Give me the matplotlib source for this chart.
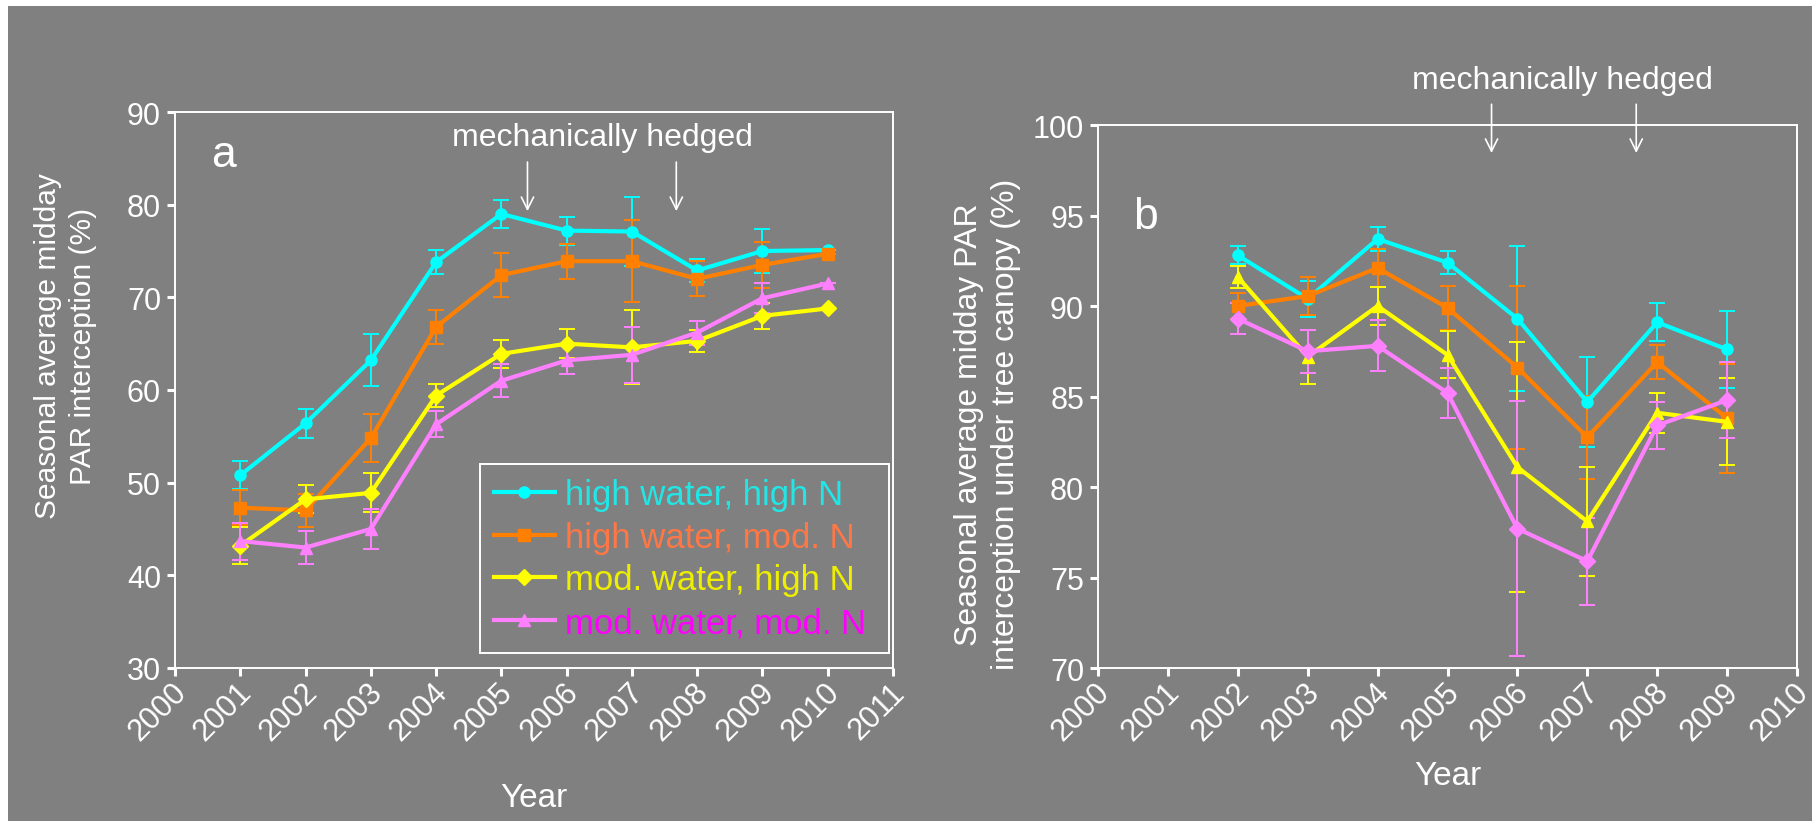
import matplotlib
matplotlib.use("Agg")
import matplotlib.pyplot as plt
from matplotlib.patches import Rectangle
from matplotlib.lines import Line2D
from matplotlib.transforms import ScaledTranslation

plt.rcParams['font.family'] = ['Liberation Sans', 'DejaVu Sans']

# panel a data (2001-2010)
years_a = [2001, 2002, 2003, 2004, 2005, 2006, 2007, 2008, 2009, 2010]
hw_hn_a = [50.8, 56.4, 63.2, 73.8, 79.0, 77.2, 77.1, 72.9, 75.0, 75.1]
hw_hn_a_err = [1.5, 1.6, 2.8, 1.3, 1.5, 1.5, 3.7, 1.2, 2.4, 0]
hw_mn_a = [47.3, 47.0, 54.8, 66.8, 72.4, 73.9, 73.9, 72.0, 73.5, 74.7]
hw_mn_a_err = [1.9, 1.8, 2.6, 1.8, 2.4, 1.9, 4.4, 1.9, 2.5, 0]
mw_hn_a = [43.2, 48.2, 48.9, 59.4, 63.9, 65.0, 64.6, 65.3, 68.0, 68.8]
mw_hn_a_err = [2.0, 1.5, 2.1, 1.2, 1.5, 1.6, 4.0, 1.2, 1.4, 0]
mw_mn_a = [43.7, 43.0, 45.0, 56.3, 61.0, 63.2, 63.8, 66.2, 69.9, 71.5]
mw_mn_a_err = [2.0, 1.8, 2.2, 1.4, 1.8, 1.5, 3.0, 1.3, 1.6, 0]

# panel b data (2002-2009)
years_b = [2002, 2003, 2004, 2005, 2006, 2007, 2008, 2009]
hw_hn_b = [92.8, 90.4, 93.7, 92.4, 89.3, 84.7, 89.1, 87.6]
hw_hn_b_err = [0.5, 1.0, 0.65, 0.65, 4.0, 2.5, 1.05, 2.15]
hw_mn_b = [90.0, 90.55, 92.1, 89.9, 86.6, 82.75, 86.9, 83.8]
hw_mn_b_err = [0.7, 1.05, 1.05, 1.2, 4.5, 2.3, 0.95, 3.0]
mw_hn_b = [91.6, 87.2, 90.0, 87.3, 81.1, 78.1, 84.1, 83.6]
mw_hn_b_err = [0.6, 1.5, 1.05, 1.3, 6.9, 3.0, 1.1, 2.4]
mw_mn_b = [89.3, 87.5, 87.8, 85.2, 77.7, 75.9, 83.4, 84.8]
mw_mn_b_err = [0.85, 1.2, 1.4, 1.4, 7.05, 2.4, 1.3, 2.1]

labels = ['high water, high N', 'high water, mod. N', 'mod. water, high N', 'mod. water, mod. N']
line_colors = ['#00FFFF', '#FF8000', '#FFFF00', '#FF80FF']
text_colors = ['#22E6E6', '#FF7744', '#EEEE00', '#FF00FF']
markers_a = ['o', 's', 'D', '^']
markers_b = ['o', 's', '^', 'D']

BG = '#808080'
W = 'white'

fig = plt.figure(figsize=(18.18, 8.28), dpi=100, facecolor='white')
fig.patches.append(Rectangle((8 / 1818, 6 / 828), 1 - 14 / 1818, 1 - 13 / 828,
                             transform=fig.transFigure, facecolor=BG, edgecolor='none', zorder=-10))

ax1 = fig.add_axes([175 / 1818, 159 / 828, 718 / 1818, 556 / 828])
ax2 = fig.add_axes([1098 / 1818, 159 / 828, 699 / 1818, 543 / 828])


def style_axes(ax):
    ax.set_facecolor(BG)
    for s in ax.spines.values():
        s.set_color(W)
        s.set_linewidth(1.4)
    ax.tick_params(colors=W, direction='out', length=6, width=2.2, labelsize=22, pad=4)
    ax.tick_params(axis='x', pad=8)
    shift = ScaledTranslation(7 / 100, 0, fig.dpi_scale_trans)
    for tk in ax.xaxis.get_major_ticks():
        t = tk.label1
        t.set_rotation(45)
        t.set_rotation_mode('anchor')
        t.set_ha('right')
        t.set_va('center')
        t.set_transform(t.get_transform() + shift)


def draw_series(ax, x, ys, errs, markers):
    for y, e, c, m in zip(ys, errs, line_colors, markers):
        ax.errorbar(x, y, yerr=e, color=c, marker=m, markersize=8, linewidth=3,
                    elinewidth=1.4, capsize=6, capthick=1.4)


# panel a
draw_series(ax1, years_a, [hw_hn_a, hw_mn_a, mw_hn_a, mw_mn_a],
            [hw_hn_a_err, hw_mn_a_err, mw_hn_a_err, mw_mn_a_err], markers_a)
ax1.set_xlim(2000, 2011)
ax1.set_ylim(30, 90)
ax1.set_xticks(range(2000, 2012))
ax1.set_yticks(range(30, 91, 10))
style_axes(ax1)
ax1.set_xlabel('Year', color=W, fontsize=24, labelpad=26)
ax1.set_ylabel('Seasonal average midday\nPAR interception (%)', color=W, fontsize=21.5,
               linespacing=1.35)
ax1.yaxis.set_label_coords(-0.108, 0.58)
ax1.text(0.05, 0.96, 'a', transform=ax1.transAxes, color=W, fontsize=32, va='top')
ax1.text(2006.55, 87.3, 'mechanically hedged', color=W, fontsize=23, ha='center', va='center')
for xa in [2005.4, 2007.68]:
    ax1.annotate('', xy=(xa, 79.0), xytext=(xa, 84.9),
                 arrowprops=dict(arrowstyle='->', color=W, lw=1.2, mutation_scale=22))

handles = [Line2D([], [], color=c, marker=m, markersize=8, linewidth=3)
           for c, m in zip(line_colors, markers_a)]
leg = ax1.legend(handles=handles, labels=labels, loc='lower left',
                 bbox_to_anchor=(0.425, 0.027, 0.569, 0.3), mode='expand',
                 fontsize=25, frameon=True, fancybox=False, edgecolor=W, facecolor=BG,
                 framealpha=1, handlelength=1.75, borderpad=0.4, labelspacing=0.28,
                 handletextpad=0.3, borderaxespad=0)
leg.get_frame().set_linewidth(1.4)
for t, c in zip(leg.get_texts(), text_colors):
    t.set_color(c)

# panel b
draw_series(ax2, years_b, [hw_hn_b, hw_mn_b, mw_hn_b, mw_mn_b],
            [hw_hn_b_err, hw_mn_b_err, mw_hn_b_err, mw_mn_b_err], markers_b)
ax2.set_xlim(2000, 2010)
ax2.set_ylim(70, 100)
ax2.set_xticks(range(2000, 2011))
ax2.set_yticks(range(70, 101, 5))
style_axes(ax2)
ax2.set_xlabel('Year', color=W, fontsize=24, labelpad=10)
ax2.set_ylabel('Seasonal average midday PAR\ninterception under tree canopy (%)', color=W,
               fontsize=23, linespacing=1.3)
ax2.yaxis.set_label_coords(-0.11, 0.45)
ax2.text(0.05, 0.87, 'b', transform=ax2.transAxes, color=W, fontsize=32, va='top')
ax2.text(2006.65, 102.5, 'mechanically hedged', color=W, fontsize=23, ha='center',
         va='center', clip_on=False)
for xa in [2005.63, 2007.7]:
    ax2.annotate('', xy=(xa, 98.3), xytext=(xa, 101.3), annotation_clip=False,
                 arrowprops=dict(arrowstyle='->', color=W, lw=1.2, mutation_scale=22))

fig.savefig('out.png', dpi=100, facecolor=fig.get_facecolor())
